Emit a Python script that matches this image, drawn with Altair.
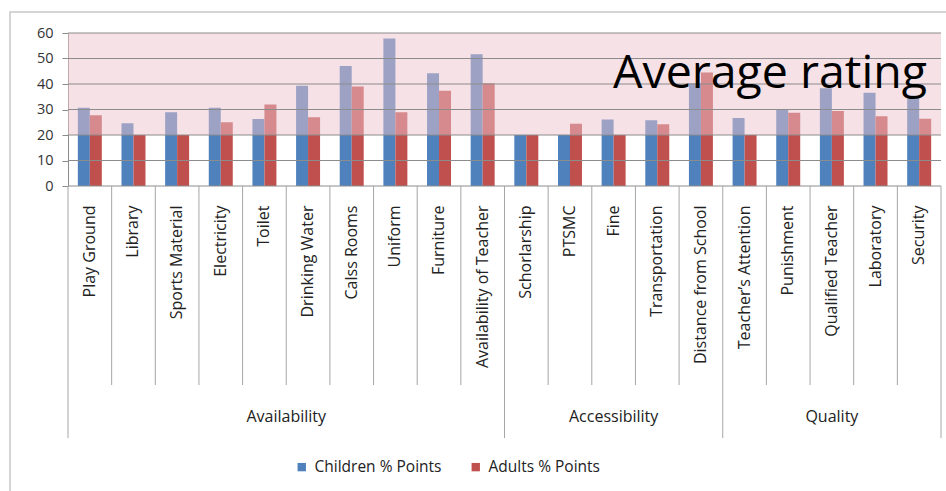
import altair as alt
import pandas as pd

categories = ["Play Ground", "Library", "Sports Material", "Electricity", "Toilet",
              "Drinking Water", "Calss Rooms", "Uniform", "Furniture", "Availability of Teacher",
              "Schorlarship", "PTSMC", "Fine", "Transportation", "Distance from School",
              "Teacher\u2019s Attention", "Punishment", "Qualified Teacher", "Laboratory", "Security"]
groups = ["Availability"] * 10 + ["Accessibility"] * 5 + ["Quality"] * 5
children = [30.7, 24.6, 28.9, 30.7, 26.3, 39.3, 47.1, 57.8, 44.2, 51.7,
            20, 20, 26.1, 25.8, 40.3, 26.7, 30.1, 38.3, 36.6, 35.5]
adults = [27.7, 20, 20, 25, 32, 27, 39, 28.9, 37.4, 40.3,
          20, 24.4, 20, 24.2, 44.5, 20, 28.7, 29.4, 27.4, 26.4]
series = ["Children % Points", "Adults % Points"]
colors = ["#4F81BD", "#C0504D"]
y_ticks = [0, 10, 20, 30, 40, 50, 60]
band_low, band_high = 20, 60

FONT = "Open Sans"
W, H = 873, 153
GRID = "#8c8c8c"

rows = []
for c, g, ch, ad in zip(categories, groups, children, adults):
    rows.append({"category": c, "group": g, "series": series[0], "value": ch})
    rows.append({"category": c, "group": g, "series": series[1], "value": ad})
df = pd.DataFrame(rows)

xscale = alt.Scale(domain=categories, paddingInner=0, paddingOuter=0)
yscale = alt.Scale(domain=[0, 60], nice=False, zero=True)

xaxis = alt.Axis(title=None, labelAngle=-90, labelFontSize=16, labelFont=FONT,
                 labelColor="#222222", labelPadding=19, ticks=False, domain=False,
                 grid=False, labelLimit=300, labelOverlap=False)
yaxis = alt.Axis(title=None, values=y_ticks, grid=False, tickSize=6, tickColor=GRID,
                 domainColor=GRID, labelFontSize=14.5, labelFont=FONT, labelColor="#333333",
                 labelPadding=9, labelOverlap=False)

bars = alt.Chart(df).mark_bar().encode(
    x=alt.X("category:N", scale=xscale, sort=categories, axis=xaxis),
    xOffset=alt.XOffset("series:N", sort=series,
                        scale=alt.Scale(domain=series, paddingInner=0, paddingOuter=0.82)),
    y=alt.Y("value:Q", scale=yscale, axis=yaxis),
    color=alt.Color("series:N", sort=series, scale=alt.Scale(domain=series, range=colors),
                    legend=alt.Legend(title=None, orient="none", legendX=226, legendY=426,
                                      direction="horizontal", symbolType="square", symbolSize=70,
                                      symbolStrokeWidth=0, labelFontSize=15.5, labelFont=FONT,
                                      labelColor="#222222", columnPadding=26, labelOffset=5)),
)

band_df = pd.DataFrame({"lo": [band_low], "hi": [band_high]})
overlay = alt.Chart(band_df).mark_rect(color="#EBC3CD", opacity=0.5).encode(
    x=alt.value(0), x2=alt.value(W),
    y=alt.Y("lo:Q", scale=yscale, axis=yaxis), y2="hi:Q")

grid_df = pd.DataFrame({"v": y_ticks})
grid = alt.Chart(grid_df).mark_rule(color=GRID, strokeWidth=1).encode(
    y=alt.Y("v:Q", scale=yscale, axis=yaxis))

short_idx = [i for i in range(len(categories)) if i not in (0, 10, 15)]
long_idx = [0, 10, 15]
short_df = pd.DataFrame({"category": [categories[i] for i in short_idx]})
long_df = pd.DataFrame({"category": [categories[i] for i in long_idx]})
end_df = pd.DataFrame({"category": [categories[-1]]})

sep_short = alt.Chart(short_df).mark_rule(color="#a6a6a6").encode(
    x=alt.X("category:N", scale=xscale, bandPosition=0, axis=xaxis),
    y=alt.value(H), y2=alt.value(H + 199))
sep_long = alt.Chart(long_df).mark_rule(color="#a6a6a6").encode(
    x=alt.X("category:N", scale=xscale, bandPosition=0, axis=xaxis),
    y=alt.value(H), y2=alt.value(H + 252))
sep_end = alt.Chart(end_df).mark_rule(color="#a6a6a6").encode(
    x=alt.X("category:N", scale=xscale, bandPosition=1, axis=xaxis),
    y=alt.value(H), y2=alt.value(H + 252))

g1 = pd.DataFrame({"category": [categories[5]], "label": ["Availability"]})
g2 = pd.DataFrame({"category": [categories[12], categories[17]],
                   "label": ["Accessibility", "Quality"]})
gtext1 = alt.Chart(g1).mark_text(fontSize=16, font=FONT, color="#222222", baseline="middle").encode(
    x=alt.X("category:N", scale=xscale, bandPosition=0, axis=xaxis),
    y=alt.value(384), text="label:N")
gtext2 = alt.Chart(g2).mark_text(fontSize=16, font=FONT, color="#222222", baseline="middle").encode(
    x=alt.X("category:N", scale=xscale, bandPosition=0.5, axis=xaxis),
    y=alt.value(384), text="label:N")

ann_df = pd.DataFrame({"t": ["Average rating"]})
ann = alt.Chart(ann_df).mark_text(fontSize=46.5, font=FONT, color="#000000", align="left",
                                  baseline="alphabetic").encode(
    x=alt.value(545), y=alt.value(55), text="t:N")

frame_df = pd.DataFrame({"a": [0]})
frame = alt.Chart(frame_df).mark_rect(fill=None, stroke="#c8c8c8", strokeWidth=1.5).encode(
    x=alt.value(-58), y=alt.value(-21), x2=alt.value(W + 20), y2=alt.value(H + 330))

chart = alt.layer(bars, overlay, grid, sep_short, sep_long, sep_end,
                  gtext1, gtext2, ann, frame).properties(
    width=W, height=H,
    autosize=alt.AutoSizeParams(type="none"),
    padding={"left": 68, "top": 33, "right": 5, "bottom": 305},
    background="white",
).configure_view(stroke=None)

chart.save("out.html", embed_options={"renderer": "svg", "actions": False})
